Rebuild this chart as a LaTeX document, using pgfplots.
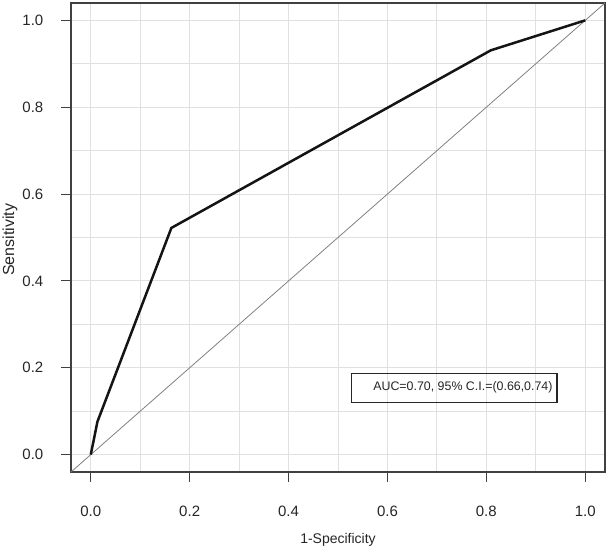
\documentclass[border=0pt]{standalone}
\usepackage{pgfplots}
\pgfplotsset{compat=1.18}
\usepackage{fontspec}
\setmainfont{Liberation Sans}

\begin{document}
\begin{tikzpicture}
% fix the page to the reference proportions (axis box lower left at origin)
\useasboundingbox (-71pt,-77pt) rectangle (539pt,472pt);
\begin{axis}[
    at={(0,0)}, anchor=south west,
    scale only axis,
    width=534pt, height=469pt,
    xmin=-0.04, xmax=1.04,
    ymin=-0.04, ymax=1.04,
    axis line style={draw=black!75, line width=1.1pt},
    tick pos=left,
    tick align=outside,
    major tick length=9.5pt,
    minor tick length=0pt,
    tick style={draw=black!75, line width=1pt},
    xtick={0,0.2,...,1.0},
    ytick={0,0.2,...,1.0},
    minor tick num=1,
    grid=both,
    major grid style={draw=black!12, line width=0.9pt},
    minor grid style={draw=black!12, line width=0.9pt},
    /pgf/number format/assume math mode=true,
    /pgf/number format/fixed,
    /pgf/number format/fixed zerofill,
    /pgf/number format/precision=1,
    ticklabel style={font=\fontsize{15}{16}\selectfont, text=black!85},
    xticklabel style={anchor=center, inner sep=0pt, yshift=-30pt},
    yticklabel style={anchor=east, inner sep=0pt, xshift=-18pt},
    xlabel={1-Specificity},
    ylabel={Sensitivity},
    label style={text=black!85},
    xlabel style={font=\fontsize{14}{16}\selectfont, at={(axis description cs:0.5,-0.145)}, anchor=center},
    ylabel style={font=\fontsize{16}{18}\selectfont, at={(axis description cs:-0.1142,0.495)}, anchor=center},
]
% reference diagonal
\addplot[draw=black!50, line width=0.8pt] coordinates {(-0.04,-0.04) (1.04,1.04)};
% ROC curve
\addplot[draw=black!92, line width=2.5pt, line join=round] coordinates {
    (0,0) (0.0135,0.076) (0.163,0.522) (0.809,0.931) (1,1)
};
\draw[draw=black!85, line width=1.1pt] (axis cs:0.528,0.121) rectangle (axis cs:0.943,0.187);
\node[anchor=west, inner sep=0pt, font=\fontsize{12.4}{14}\selectfont, text=black!85]
    at (axis cs:0.571,0.154) {AUC=0.70, 95\% C.I.=(0.66,0.74)};
\end{axis}
\end{tikzpicture}
\end{document}
